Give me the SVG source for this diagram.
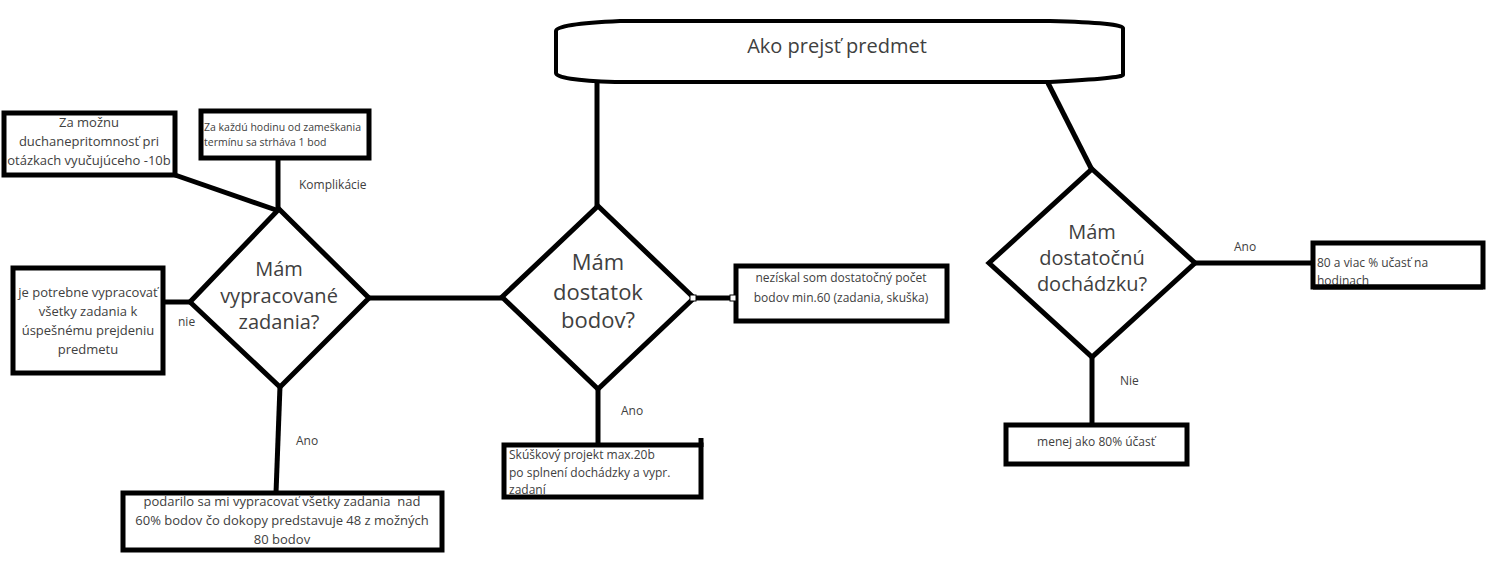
<svg xmlns="http://www.w3.org/2000/svg" width="1505" height="566" viewBox="0 0 1505 566">
<style>
.shape{fill:#ffffff;stroke:#000000;stroke-width:5}
.term{fill:#ffffff;stroke:#000000;stroke-width:4}
.conn{fill:none;stroke:#000000;stroke-width:5}
.t{font-family:"Open Sans","Liberation Sans",sans-serif;fill:#404040}
.big{font-size:20px}
.mid{font-size:12px}
.sm{font-size:10.5px}
.handle{fill:#ffffff;stroke:#000000;stroke-width:1}
</style>
<rect width="1505" height="566" fill="#ffffff"/>
<g id="connectors">
  <line class="conn" x1="597" y1="80" x2="597" y2="207"/>
  <line class="conn" x1="1048" y1="83" x2="1092" y2="170"/>
  <line class="conn" x1="175" y1="175" x2="279" y2="211"/>
  <line class="conn" x1="278" y1="158" x2="278" y2="211"/>
  <line class="conn" x1="161" y1="302" x2="190" y2="302"/>
  <line class="conn" x1="280" y1="386" x2="276" y2="493"/>
  <line class="conn" x1="368" y1="298" x2="502" y2="298"/>
  <line class="conn" x1="694" y1="298" x2="736" y2="298"/>
  <line class="conn" x1="598" y1="388" x2="598" y2="446"/>
  <line class="conn" x1="1194" y1="263" x2="1313" y2="263"/>
  <line class="conn" x1="1092" y1="356" x2="1092" y2="426"/>
  <text class="t mid" x="299" y="189">Komplikácie</text>
  <text class="t mid" x="178" y="326">nie</text>
  <text class="t mid" x="296" y="445">Ano</text>
  <text class="t mid" x="621" y="415">Ano</text>
  <text class="t mid" x="1234" y="251">Ano</text>
  <text class="t mid" x="1120" y="385">Nie</text>
</g>
<g id="start">
  <path class="term" d="M 620 21 L 1050 21 Q 1123 23 1123 28 L 1123 75 Q 1123 78 1050 82 L 615 82 Q 556 80 556 73 L 556 31 Q 556 24 620 21 Z"/>
  <text class="t" x="837" y="53" font-size="20" text-anchor="middle">Ako prejsť predmet</text>
</g>
<g id="box-komplikacia1">
  <rect class="shape" x="4" y="113" width="171" height="62"/>
  <text class="t" font-size="13" text-anchor="middle"><tspan x="89" y="127">Za možnu</tspan><tspan x="89" y="146">duchanepritomnosť pri</tspan><tspan x="89" y="165">otázkach vyučujúceho -10b</tspan></text>
</g>
<g id="box-komplikacia2">
  <rect class="shape" x="201" y="111" width="168" height="47"/>
  <text class="t sm"><tspan x="204" y="131">Za každú hodinu od zameškania</tspan><tspan x="204" y="146">termínu sa strháva 1 bod</tspan></text>
</g>
<g id="diamond-zadania">
  <polygon class="shape" points="279,209 369,298 280,387 190,302"/>
  <text class="t big" text-anchor="middle"><tspan x="279" y="276">Mám</tspan><tspan x="279" y="303">vypracované</tspan><tspan x="279" y="329">zadania?</tspan></text>
</g>
<g id="box-nie">
  <rect class="shape" x="13" y="268" width="150" height="105"/>
  <text class="t" font-size="13" text-anchor="middle"><tspan x="88" y="297">je potrebne vypracovať</tspan><tspan x="88" y="316">všetky zadania k</tspan><tspan x="88" y="335">úspešnému prejdeniu</tspan><tspan x="88" y="354">predmetu</tspan></text>
</g>
<g id="box-ano-zadania">
  <rect class="shape" x="123" y="493" width="319" height="57"/>
  <text class="t" font-size="13" text-anchor="middle" xml:space="preserve"><tspan x="282" y="506">podarilo sa mi vypracovať všetky zadania  nad</tspan><tspan x="282" y="525">60% bodov čo dokopy predstavuje 48 z možných</tspan><tspan x="282" y="544">80 bodov</tspan></text>
</g>
<g id="diamond-body">
  <polygon class="shape" points="598,206 694,298 598,389 502,297"/>
  <text class="t" font-size="22" text-anchor="middle"><tspan x="598" y="270">Mám</tspan><tspan x="598" y="300">dostatok</tspan><tspan x="598" y="328">bodov?</tspan></text>
</g>
<g id="box-nedostatok">
  <rect class="shape" x="736" y="266" width="211" height="55"/>
  <text class="t mid" text-anchor="middle"><tspan x="841" y="282">nezískal som dostatočný počet</tspan><tspan x="841" y="302">bodov min.60 (zadania, skuška)</tspan></text>
</g>
<g id="box-projekt">
  <rect class="shape" x="504" y="445" width="197" height="52"/>
  <line class="conn" x1="701" y1="438" x2="701" y2="447"/>
  <text class="t mid"><tspan x="509" y="459">Skúškový projekt max.20b</tspan><tspan x="509" y="477">po splnení dochádzky a vypr.</tspan><tspan x="509" y="494">zadaní</tspan></text>
</g>
<g id="diamond-dochadzka">
  <polygon class="shape" points="1092,169 1195,263 1092,357 989,263"/>
  <text class="t big" text-anchor="middle"><tspan x="1092" y="239">Mám</tspan><tspan x="1092" y="265">dostatočnú</tspan><tspan x="1092" y="291">dochádzku?</tspan></text>
</g>
<g id="box-ucast">
  <rect class="shape" x="1313" y="243" width="170" height="44"/>
  <text class="t mid"><tspan x="1317" y="267">80 a viac % učasť na</tspan><tspan x="1317" y="285">hodinach</tspan></text>
  <line x1="1313" y1="287" x2="1483" y2="287" stroke="#000" stroke-width="5"/>
</g>
<g id="box-menej">
  <rect class="shape" x="1006" y="425" width="181" height="39"/>
  <text class="t mid" x="1096" y="446" text-anchor="middle">menej ako 80% účasť</text>
</g>
<g id="handles">
  <rect class="handle" x="690" y="295" width="6" height="6"/>
  <rect class="handle" x="730" y="295" width="6" height="6"/>
</g>
</svg>
